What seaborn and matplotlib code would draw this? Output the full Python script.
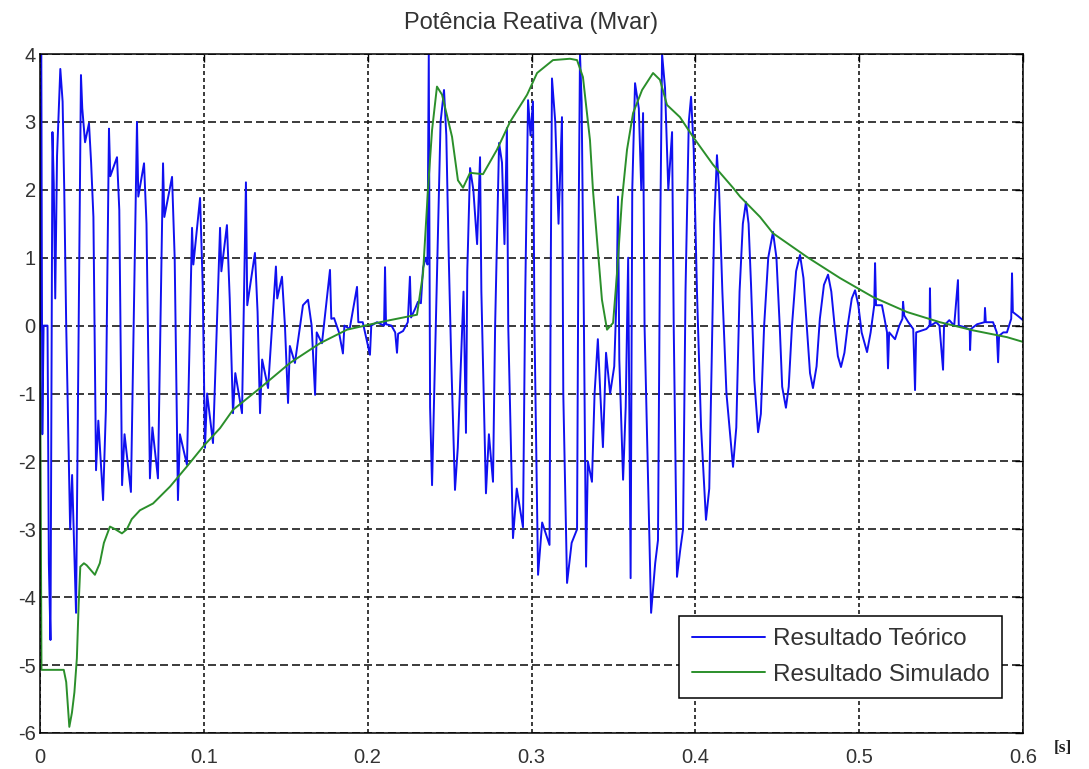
import matplotlib
matplotlib.use("Agg")
import matplotlib.pyplot as plt
import numpy as np
import pandas as pd
import seaborn as sns

# Reactive power, theoretical result: (time in ms, Mvar) vertices per stretch
teorico_a = [
    (0.0, -0.2), (0.8, 4.0), (1.4, -1.6), (2.2, 0.0), (4.6, 0.0), (5.4, -3.5), (6.4, -4.63),
    (7.6, 2.85), (8.4, 2.1), (9.3, 0.4), (10.4, 2.5), (12.4, 3.78), (13.8, 3.3), (14.8, 2.0),
    (16.0, 0.0), (18.4, -3.0), (19.6, -2.2), (22.0, -4.23),
    (25.0, 3.69), (25.8, 3.2), (27.5, 2.7), (29.9, 2.98), (31.2, 2.4), (32.6, 1.6), (34.2, -2.13),
    (35.6, -1.4), (38.5, -2.57),
    (40.2, -1.25), (42.1, 2.9), (42.9, 2.2), (47.0, 2.48), (48.4, 1.7), (50.1, -2.35), (51.6, -1.6),
    (55.5, -2.45),
    (59.2, 3.0), (60.0, 1.9), (63.5, 2.39), (65.0, 1.5), (67.1, -2.25), (68.6, -1.5), (72.0, -2.25),
    (75.1, 2.39), (75.9, 1.6), (80.6, 2.19), (82.2, 1.0), (84.2, -2.57), (85.4, -1.6), (89.7, -2.05),
    (92.8, 1.44), (93.6, 0.9), (97.7, 1.88), (99.3, 0.6), (100.7, -1.8), (102.0, -1.0), (105.6, -1.73),
    (109.9, 1.44), (110.7, 0.8), (114.1, 1.48), (115.8, 0.4), (117.8, -1.29), (119.2, -0.7),
    (123.3, -1.29),
    (125.7, 2.11), (126.5, 0.3), (131.2, 1.07), (132.8, 0.2), (134.3, -1.29), (135.6, -0.5),
    (139.2, -0.92),
    (144.0, 0.87), (144.8, 0.4), (147.7, 0.72), (149.5, 0.0), (151.4, -1.14), (152.5, -0.3),
    (155.6, -0.55),
    (160.5, 0.3), (163.6, 0.38), (165.8, 0.0), (167.9, -1.02), (168.9, -0.1), (172.1, -0.26),
    (177.0, 0.82), (177.8, 0.1), (179.5, 0.11), (182.5, -0.1), (184.9, -0.41), (185.8, 0.0),
    (189.0, -0.05),
    (193.5, 0.57), (194.3, 0.05), (197.0, 0.05), (201.4, -0.43), (202.2, 0.0),
]
teorico_b = [
    (205.7, 0.05), (210.0, 0.0), (210.6, 0.86), (211.2, 0.02), (214.5, 0.0), (216.8, -0.1),
    (217.9, -0.4), (218.6, -0.12), (221.6, -0.08), (224.5, 0.05), (225.8, 0.72), (226.5, 0.12),
    (229.0, 0.25), (230.7, 0.35), (232.5, 0.33), (233.8, 0.85), (235.5, 1.0),
]
teorico_c = [
    (236.5, 0.9), (237.3, 4.0), (238.1, -1.2), (239.3, -2.35), (240.6, -1.0), (242.5, 1.0),
    (244.5, 3.0), (246.6, 3.47), (248.0, 2.8), (249.5, 1.0), (251.0, -0.5), (253.3, -2.42),
    (255.0, -1.8), (258.5, 0.5), (260.0, -1.58), (260.8, 0.8), (262.5, 2.32), (264.5, 2.0),
    (266.8, 1.2), (268.6, 2.48), (269.4, 0.5), (272.2, -2.47), (274.0, -1.6), (276.5, -2.3),
    (277.8, 0.0), (280.2, 2.69), (282.0, 2.4), (283.5, 1.2), (285.0, 2.91), (285.8, 0.0),
    (288.7, -3.13), (291.0, -2.4), (294.8, -2.97), (296.2, 0.5), (297.9, 3.32), (299.4, 2.8),
    (300.9, 3.3), (301.8, 0.0), (304.0, -3.67), (306.5, -2.9), (311.0, -3.23), (311.8, 1.0),
    (312.5, 3.64), (314.5, 3.0), (316.5, 1.5), (318.6, 3.07), (319.4, -1.0), (321.7, -3.79),
    (324.5, -3.2), (327.8, -3.0), (328.6, 1.0), (329.6, 4.0), (330.6, 3.3), (332.0, 0.0),
    (333.3, -3.55), (334.4, -2.0), (336.9, -2.3), (338.5, -1.0), (340.5, -0.2), (342.0, -1.0),
    (343.6, -1.79), (345.5, -0.4), (348.0, -1.0), (350.5, -0.6), (352.0, 0.5), (352.8, 1.9),
    (353.6, -0.5), (355.9, -2.27), (357.5, -1.2), (359.0, 1.0), (360.5, -3.72), (361.5, 2.0),
    (363.2, 3.57), (365.5, 3.2), (367.0, 2.0), (368.1, 3.13), (369.0, 0.0), (373.0, -4.23),
    (375.5, -3.5), (377.2, -3.16), (378.4, 1.0), (379.7, 4.0), (381.5, 3.5), (383.5, 2.0),
    (385.8, 2.85), (386.8, 0.0), (388.8, -3.7), (390.8, -3.3), (392.5, -3.0), (394.0, 0.5),
    (396.0, 3.0), (397.4, 3.37), (399.0, 2.6), (401.0, 0.5), (403.5, -1.5), (406.5, -2.86),
    (408.5, -2.4), (410.0, -0.5), (411.5, 1.5), (413.2, 2.51), (414.5, 2.0), (416.5, 0.5),
    (419.0, -1.0), (423.0, -2.08), (425.0, -1.5), (427.0, 0.5), (429.0, 1.5),
]
teorico_d = [
    (430.9, 1.82), (432.5, 1.5), (434.0, 0.6), (436.0, -0.8), (438.3, -1.57), (440.0, -1.3),
    (442.0, 0.0), (444.5, 1.0), (447.4, 1.38), (449.5, 1.0), (451.5, 0.0), (453.0, -0.9),
    (455.3, -1.21), (457.0, -0.9), (459.0, 0.0), (461.5, 0.8), (463.9, 1.04), (466.0, 0.7),
    (468.0, 0.0), (470.0, -0.7), (471.8, -0.92), (474.0, -0.6), (476.0, 0.1), (478.5, 0.6),
    (481.0, 0.75), (483.0, 0.5), (485.0, 0.0), (487.0, -0.45), (488.9, -0.61), (491.0, -0.4),
    (493.0, 0.0), (495.5, 0.4), (497.5, 0.52), (499.5, 0.3), (501.5, -0.1), (504.8, -0.39),
    (507.0, -0.1), (509.2, 0.3), (509.7, 0.92), (510.3, 0.3), (512.5, 0.3), (513.9, 0.3),
    (515.5, 0.1), (517.0, -0.1), (517.6, -0.63), (518.3, -0.1), (521.9, -0.2), (524.5, 0.0),
    (526.4, 0.1), (526.8, 0.35), (527.5, 0.15), (530.0, 0.05), (533.0, -0.05), (534.1, -0.95),
    (534.8, -0.1), (538.4, -0.07), (541.0, -0.05), (543.0, 0.0), (543.2, 0.55), (543.6, 0.0),
    (547.0, 0.05), (549.0, 0.0), (551.2, -0.65), (551.8, 0.0), (555.0, 0.08), (558.0, 0.0),
    (560.3, 0.67), (560.8, 0.0), (564.0, -0.02), (567.5, -0.06), (567.7, -0.36), (568.2, -0.05),
    (572.0, 0.02), (576.5, 0.05), (576.8, 0.26), (577.3, 0.05), (581.7, 0.05), (584.0, -0.1),
    (584.8, -0.54), (585.4, -0.15), (588.0, -0.1), (590.2, -0.1), (592.8, 0.1), (593.3, 0.77),
    (593.8, 0.2), (597.0, 0.14), (600.0, 0.08),
]

# Reactive power, simulated result: (time in ms, Mvar)
simulado = [
    (0.0, -0.1), (0.9, -5.07), (14.5, -5.07), (16.0, -5.25), (17.9, -5.91), (19.5, -5.7),
    (21.0, -5.4), (22.5, -4.9), (23.6, -4.1), (24.6, -3.55), (26.8, -3.5), (28.5, -3.53),
    (31.0, -3.6), (33.5, -3.67), (36.5, -3.5), (39.0, -3.2), (42.7, -2.96), (46.0, -3.0),
    (50.0, -3.06), (53.0, -3.0), (56.0, -2.85), (61.0, -2.72), (69.0, -2.62), (79.4, -2.37),
    (89.5, -2.08), (99.6, -1.78), (109.9, -1.51), (117.8, -1.24), (134.3, -0.92), (152.6, -0.55),
    (170.9, -0.26), (187.4, -0.06), (205.7, 0.04), (213.6, 0.08), (230.1, 0.16), (233.8, 0.77),
    (236.8, 2.0), (239.3, 2.88), (242.3, 3.52), (245.4, 3.4), (251.5, 2.78), (255.1, 2.14),
    (258.2, 2.03), (262.5, 2.25), (270.4, 2.23), (278.9, 2.59), (286.9, 3.0), (297.3, 3.4),
    (303.4, 3.72), (313.1, 3.91), (323.5, 3.93), (327.8, 3.91), (331.4, 3.66), (335.7, 2.73),
    (337.5, 2.0), (340.0, 1.26), (343.0, 0.38), (346.1, -0.06), (349.8, 0.04), (352.2, 0.77),
    (355.2, 1.85), (358.3, 2.59), (362.0, 3.13), (367.5, 3.47), (374.2, 3.72), (378.4, 3.62),
    (382.7, 3.25), (390.6, 3.07), (398.6, 2.78), (410.8, 2.37), (423.0, 2.03), (427.3, 1.9),
    (439.5, 1.6), (447.4, 1.36), (468.2, 1.01), (488.3, 0.7), (508.5, 0.42), (529.2, 0.2),
    (549.3, 0.05), (569.5, -0.07), (590.2, -0.17), (600.0, -0.24),
]

x_ticks = [0, 0.1, 0.2, 0.3, 0.4, 0.5, 0.6]
x_tick_labels = ["0", "0.1", "0.2", "0.3", "0.4", "0.5", "0.6"]
y_ticks = [-6, -5, -4, -3, -2, -1, 0, 1, 2, 3, 4]
serie_labels = ["Resultado Teórico", "Resultado Simulado"]
serie_colors = ["#1010f0", "#2b8f2b"]


def to_frame(points, label):
    arr = np.array(points, dtype=float)
    return pd.DataFrame({"t": arr[:, 0] / 1000.0, "q": arr[:, 1], "serie": label})


teorico = pd.concat([to_frame(p, serie_labels[0]) for p in
                     (teorico_a, teorico_b, teorico_c, teorico_d)], ignore_index=True)
sim = to_frame(simulado, serie_labels[1])

sns.set_theme(style="white")
plt.rcParams["font.family"] = ["Liberation Sans", "DejaVu Sans"]

fig = plt.figure(figsize=(10.89, 7.69), dpi=100)
ax = fig.add_axes([40 / 1089, 1 - 733 / 769, 983 / 1089, 679 / 769])

sns.lineplot(data=teorico, x="t", y="q", ax=ax, color=serie_colors[0], linewidth=1.4,
             estimator=None, sort=False, label=serie_labels[0])
sns.lineplot(data=sim, x="t", y="q", ax=ax, color=serie_colors[1], linewidth=1.4,
             estimator=None, sort=False, label=serie_labels[1])

ax.set_xlim(0, 0.6)
ax.set_ylim(-6, 4)
ax.set_xticks(x_ticks)
ax.set_xticklabels(x_tick_labels)
ax.set_yticks(y_ticks)
ax.set_yticklabels([str(v) for v in y_ticks])
ax.set_xlabel("")
ax.set_ylabel("")

# vertical grid lines finely dotted, horizontal ones in longer dashes
ax.xaxis.grid(True, color="#1a1a1a", linestyle=(0, (2.4, 1.8)), linewidth=1.2)
ax.yaxis.grid(True, color="#1a1a1a", linestyle=(0, (4.8, 2.4)), linewidth=1.2)
ax.set_axisbelow(True)
for s in ax.spines.values():
    s.set_color("black")
    s.set_linewidth(1.1)
ax.tick_params(direction="in", length=6, width=1.0, colors="black", labelsize=14.5,
               top=True, right=True, labelcolor="#333333")
ax.tick_params(axis="x", pad=11)
ax.tick_params(axis="y", pad=3)

ax.set_title("Potência Reativa (Mvar)", fontsize=17, color="#333333", pad=18)
fig.text(1063 / 1089, 1 - 748 / 769, "[s]", fontsize=12.5, fontweight="bold",
         family=["Liberation Serif", "DejaVu Serif"], ha="center", va="center", color="#222222")

leg = ax.legend(loc="lower right", bbox_to_anchor=(0.9786, 0.0515), borderaxespad=0,
                fontsize=17.5, handlelength=3.0, frameon=True, fancybox=False,
                edgecolor="black", framealpha=1, borderpad=0.5, labelspacing=0.55,
                handletextpad=0.35)
leg.get_frame().set_linewidth(1.1)
for txt in leg.get_texts():
    txt.set_color("#333333")

fig.savefig("out.png", dpi=100, facecolor="white")
